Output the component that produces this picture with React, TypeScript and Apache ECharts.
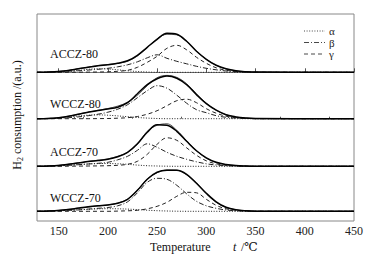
import React, { useEffect, useRef } from "react";
import * as echarts from "echarts";

// Temperature sample points (°C)
const temps = [128, 140, 150, 160, 170, 180, 190, 200, 210, 220, 230, 240, 250, 260, 270, 280, 290, 300, 310, 320, 330, 340, 350, 450];

const panelNames = ["ACCZ-80", "WCCZ-80", "ACCZ-70", "WCCZ-70"];

// ACCZ-80
const accz80Exp = [0, 0.3, 0.8, 1.8, 3.5, 5, 6.5, 7.5, 9, 11.5, 17, 25, 33, 39, 38, 31, 21, 13, 7, 3.5, 1.5, 0.6, 0.2, 0];
const accz80Fit = [0, 0.2, 0.9, 2.0, 3.4, 5.2, 6.8, 7.8, 9, 11, 16.3, 24.8, 33.5, 38, 37.5, 31, 21, 13, 7, 3.3, 1.5, 0.6, 0.1, 0];
const accz80Alpha = [0, 0, 0.3, 0.8, 1.8, 3, 3.5, 3.3, 2.5, 1.5, 0.8, 0.3, 0, 0, 0, 0, 0, 0, 0, 0, 0, 0, 0, 0];
const accz80Beta = [0, 0.2, 0.6, 1.2, 1.5, 2.2, 3, 4, 5.5, 7.5, 10.5, 14.5, 17.5, 14, 11, 8.5, 6, 4, 2.5, 1.3, 0.6, 0.2, 0, 0];
const accz80Gamma = [0, 0, 0, 0, 0.1, 0.2, 0.3, 0.5, 1, 2, 5, 10, 16, 24, 27, 22.5, 15, 9, 4.5, 2, 0.9, 0.4, 0.1, 0];

// WCCZ-80
const wccz80Exp = [0, 0.3, 1, 2.5, 4.5, 6.5, 8.3, 9.7, 11.5, 16, 25, 34, 40, 42.7, 40.5, 34, 24, 15, 8.5, 4, 1.8, 0.7, 0.2, 0];
const wccz80Fit = [0, 0.4, 1.1, 2.5, 4.5, 6.5, 8.4, 10.2, 12.6, 16.5, 23.5, 33, 41, 43.3, 41.3, 35, 25, 15.5, 8.5, 3.9, 1.6, 0.6, 0.1, 0];
const wccz80Alpha = [0, 0.2, 0.6, 1.5, 2.7, 3.5, 3.8, 3.5, 2.8, 2, 1.2, 0.6, 0.2, 0, 0, 0, 0, 0, 0, 0, 0, 0, 0, 0];
const wccz80Beta = [0, 0.2, 0.5, 1, 1.8, 3, 4.5, 6.5, 9.5, 14, 21, 28, 33, 30.5, 23.5, 15.5, 9, 6, 3, 1.4, 0.6, 0.2, 0, 0];
const wccz80Gamma = [0, 0, 0, 0, 0, 0, 0.1, 0.2, 0.5, 1, 2.2, 4.5, 8, 13, 18, 19.5, 16, 10, 5.5, 2.5, 1, 0.4, 0.1, 0];

// ACCZ-70
const accz70Exp = [0, 0.3, 0.9, 2, 3.3, 4.7, 5.8, 7, 9.5, 14, 22.5, 34, 41.5, 41, 35, 25, 15.5, 8.5, 4, 1.8, 0.7, 0.3, 0.1, 0];
const accz70Fit = [0, 0.4, 1, 2.1, 3.5, 4.9, 6.1, 7.4, 10, 14, 22, 35, 41, 42.5, 36, 25.5, 15.5, 8, 3.8, 1.6, 0.7, 0.2, 0, 0];
const accz70Alpha = [0, 0.2, 0.5, 1, 1.7, 2.3, 2.7, 2.8, 2.5, 2, 1.2, 0.6, 0.3, 0.1, 0, 0, 0, 0, 0, 0, 0, 0, 0, 0];
const accz70Beta = [0, 0.2, 0.5, 1, 1.6, 2.3, 3, 4, 6.5, 10, 16, 22.5, 19, 14, 10, 7, 4.5, 2.5, 1.3, 0.6, 0.2, 0, 0, 0];
const accz70Gamma = [0, 0, 0, 0.1, 0.2, 0.3, 0.4, 0.6, 1, 2, 5, 12, 22, 28.5, 26, 18.5, 11, 5.5, 2.5, 1, 0.5, 0.2, 0, 0];

// WCCZ-70
const wccz70Exp = [0, 0.3, 0.8, 1.8, 3.2, 4.5, 5.5, 6.3, 8, 12, 21, 32, 39, 41, 41, 37, 28, 18, 9.5, 4, 1.5, 0.5, 0.1, 0];
const wccz70Fit = [0, 0.4, 1, 2, 2.9, 4.2, 5.4, 6.4, 8.2, 12.2, 21.2, 32.4, 38.6, 41.3, 41.1, 36.5, 28.5, 17.5, 9, 3.8, 1.5, 0.5, 0.1, 0];
const wccz70Alpha = [0, 0.2, 0.5, 1, 1.5, 2, 2.4, 2.6, 2.5, 2.2, 1.7, 1.1, 0.6, 0.3, 0.1, 0, 0, 0, 0, 0, 0, 0, 0, 0];
const wccz70Beta = [0, 0.2, 0.5, 1, 1.4, 2.2, 3, 3.8, 5.5, 9.5, 18.5, 29, 33, 32, 26, 17.5, 10, 5.5, 3, 1.3, 0.5, 0.2, 0, 0];
const wccz70Gamma = [0, 0, 0, 0, 0, 0, 0, 0, 0.2, 0.5, 1, 2.5, 5, 9, 15, 19, 18.5, 12, 6, 2.5, 1, 0.3, 0.1, 0];

const xTickValues = [150, 200, 250, 300, 350, 400, 450];
const xMinorTickValues = [175, 225, 275, 325, 375, 425];
const componentNames = ["α", "β", "γ"];

const FONT = '"Liberation Serif", "DejaVu Serif", serif';
const COMPONENT_DASH: number[][] = [[1, 1.6], [5, 2, 1, 2], [4, 3]];

export default function App() {
  const ref = useRef<HTMLDivElement>(null);

  useEffect(() => {
    if (!ref.current) return;
    const chart = echarts.init(ref.current, null, { renderer: "svg" });

    const panels = [
      { exp: accz80Exp, fit: accz80Fit, a: accz80Alpha, b: accz80Beta, g: accz80Gamma },
      { exp: wccz80Exp, fit: wccz80Fit, a: wccz80Alpha, b: wccz80Beta, g: wccz80Gamma },
      { exp: accz70Exp, fit: accz70Fit, a: accz70Alpha, b: accz70Beta, g: accz70Gamma },
      { exp: wccz70Exp, fit: wccz70Fit, a: wccz70Alpha, b: wccz70Beta, g: wccz70Gamma },
    ];

    // vertical layout of stacked panels (pixel offsets of baselines above x-axis)
    const plotHeight = 207;
    const baselineOffsets = [148.7, 102.3, 54.7, 9.7];

    const pairs = (arr: number[]) => temps.map((t, i) => [t, arr[i]]);

    const series: any[] = [];
    panels.forEach((p, k) => {
      const base = { type: "line", yAxisIndex: k, xAxisIndex: 0, symbol: "none", smooth: 0.35, silent: true };
      [p.a, p.b, p.g].forEach((arr, c) => {
        series.push({
          ...base,
          name: componentNames[c],
          data: pairs(arr),
          z: 2,
          itemStyle: { color: "#222" },
          lineStyle: { color: "#222", width: 1, type: COMPONENT_DASH[c] },
        });
      });
      series.push({ ...base, name: panelNames[k] + " fit", data: pairs(p.fit), z: 3, itemStyle: { color: "#222" }, lineStyle: { color: "#222", width: 0.8 } });
      series.push({ ...base, name: panelNames[k] + " exp", data: pairs(p.exp), z: 4, itemStyle: { color: "#000" }, lineStyle: { color: "#000", width: 1.5 } });
    });

    const labelY = [54, 104, 152, 197.5];
    const legendY = [31, 42.5, 54];

    chart.setOption({
      animation: false,
      grid: { left: 37, right: 22, top: 14, bottom: 38, show: true, borderColor: "#888", borderWidth: 1, backgroundColor: "transparent" },
      xAxis: [
        {
          type: "value",
          min: 128,
          max: 450,
          axisLine: { show: true, lineStyle: { color: "#777", width: 1 } },
          axisTick: { show: true, inside: true, length: 4, customValues: xTickValues, lineStyle: { color: "#555" } },
          axisLabel: { show: true, customValues: xTickValues, margin: 4, color: "#222", fontFamily: FONT, fontSize: 12 },
          splitLine: { show: false },
        },
        {
          type: "value",
          min: 128,
          max: 450,
          position: "bottom",
          axisLine: { show: false },
          axisTick: { show: true, inside: true, length: 2, customValues: xMinorTickValues, lineStyle: { color: "#555" } },
          axisLabel: { show: false },
          splitLine: { show: false },
        },
      ],
      yAxis: baselineOffsets.map((b) => ({
        type: "value",
        show: false,
        min: -b,
        max: plotHeight - b,
        splitLine: { show: false },
      })),
      graphic: [
        ...panelNames.map((n, i) => ({
          type: "text",
          x: 50,
          y: labelY[i],
          style: { text: n, font: `12px ${FONT}`, fill: "#111", verticalAlign: "middle" },
        })),
        ...componentNames.map((n, i) => ({
          type: "line",
          shape: { x1: 304, y1: legendY[i], x2: 325, y2: legendY[i] },
          style: { stroke: "#333", lineWidth: 0.9, lineDash: COMPONENT_DASH[i] },
        })),
        ...componentNames.map((n, i) => ({
          type: "text",
          x: 329,
          y: legendY[i],
          style: { text: n, font: `11px ${FONT}`, lineHeight: 11, fill: "#222", verticalAlign: "middle" },
        })),
        {
          type: "text",
          x: 150,
          y: 247,
          style: { text: "Temperature", font: `12px ${FONT}`, fill: "#111", verticalAlign: "middle" },
        },
        {
          type: "text",
          x: 233,
          y: 247,
          style: { text: "t", font: `italic 12px ${FONT}`, fill: "#111", verticalAlign: "middle" },
        },
        {
          type: "text",
          x: 238,
          y: 247,
          style: { text: " /℃", font: `12px ${FONT}`, fill: "#111", verticalAlign: "middle" },
        },
        {
          type: "text",
          x: 17,
          y: 115,
          rotation: Math.PI / 2,
          style: {
            text: "{h|H}{s|2}{n| consumption /(a.u.)}",
            align: "center",
            verticalAlign: "middle",
            fill: "#111",
            rich: {
              h: { fontFamily: FONT, fontSize: 12, lineHeight: 14, fill: "#111" },
              s: { fontFamily: FONT, fontSize: 8, lineHeight: 14, verticalAlign: "bottom", fill: "#111" },
              n: { fontFamily: FONT, fontSize: 12, lineHeight: 14, fill: "#111" },
            },
          },
        },
      ],
      series,
    });

    return () => chart.dispose();
  }, []);

  return <div ref={ref} style={{ position: "absolute", left: 0, top: 0, width: 376, height: 259 }} />;
}
